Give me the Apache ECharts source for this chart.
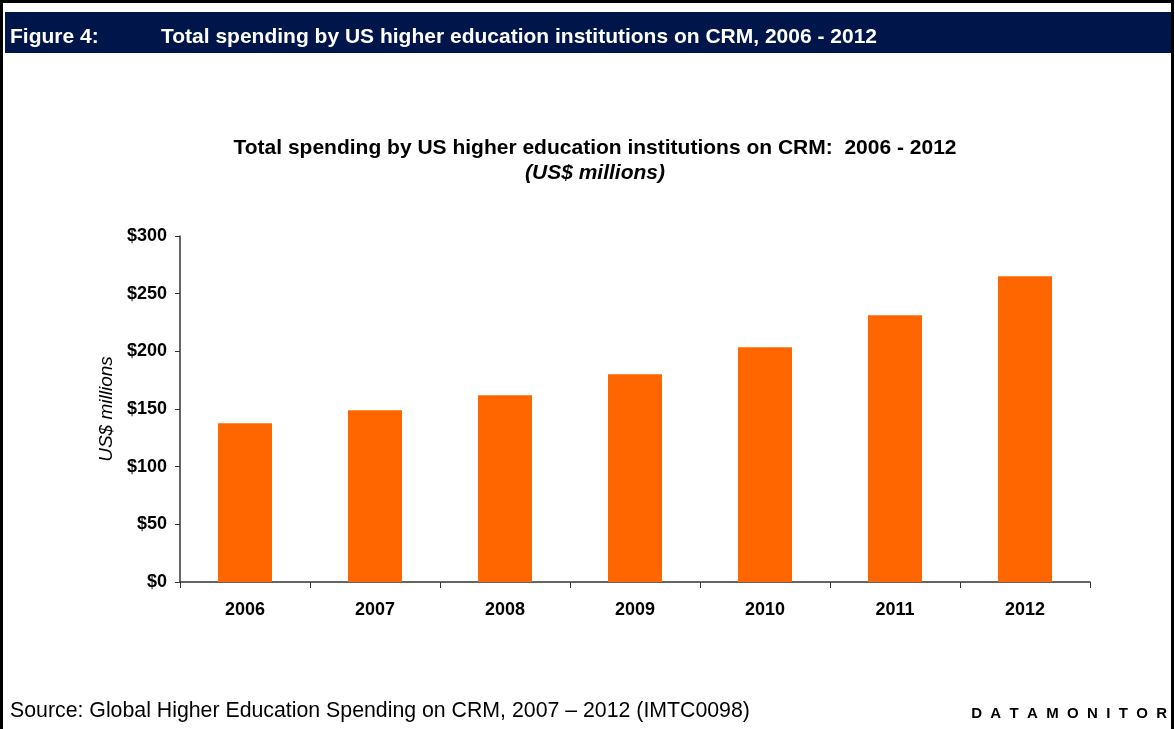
<!DOCTYPE html>
<html>
<head>
<meta charset="utf-8">
<script src="https://cdn.jsdelivr.net/npm/echarts@6/dist/echarts.min.js"></script>
<style>
  html, body { margin: 0; padding: 0; background: #fff; }
  #chart { width: 1175px; height: 729px; }
</style>
</head>
<body>
<div id="chart"></div>
<script>
// data
var years = ['2006', '2007', '2008', '2009', '2010', '2011', '2012'];
var spending = [137.6, 148.9, 161.9, 180.1, 203.5, 231.2, 265.1];

var FONT = 'Liberation Sans, Arial, sans-serif';

var chart = echarts.init(document.getElementById('chart'));
chart.setOption({
    backgroundColor: '#fff',
    animation: false,
    title: {
        text: 'Total spending by US higher education institutions on CRM:  2006 - 2012',
        subtext: '(US$ millions)',
        left: 590,
        textAlign: 'center',
        top: 133,
        itemGap: 4,
        textStyle: { fontFamily: FONT, fontSize: 21, fontWeight: 'bold', color: '#000' },
        subtextStyle: { fontFamily: FONT, fontSize: 21, fontWeight: 'bold', fontStyle: 'italic', color: '#000' }
    },
    grid: { left: 180, right: 85, top: 236, bottom: 147 },
    xAxis: {
        type: 'category',
        data: years,
        axisLine: { lineStyle: { color: '#333', width: 1.5 } },
        axisTick: { show: true, length: 6, lineStyle: { color: '#333' } },
        axisLabel: { margin: 19, fontFamily: FONT, fontSize: 18, fontWeight: 'bold', color: '#000' }
    },
    yAxis: {
        type: 'value',
        min: 0, max: 300, interval: 50,
        name: 'US$ millions',
        nameLocation: 'middle',
        nameGap: 60,
        nameTextStyle: { fontFamily: FONT, fontSize: 19, fontStyle: 'italic', color: '#000' },
        axisLine: { show: true, lineStyle: { color: '#333', width: 1.5 } },
        axisTick: { show: true, length: 5, lineStyle: { color: '#333' } },
        splitLine: { show: false },
        axisLabel: {
            margin: 13,
            fontFamily: FONT, fontSize: 18, fontWeight: 'bold', color: '#000',
            formatter: function (v) { return '$' + v; }
        }
    },
    series: [{
        type: 'bar',
        data: spending,
        barWidth: 54,
        itemStyle: { color: '#FF6600' }
    }],
    graphic: [
        // outer frame
        { type: 'rect', shape: { x: 1.5, y: 1.5, width: 1171, height: 740 }, style: { fill: null, stroke: '#000', lineWidth: 3 }, z: 100 },
        // header bar
        { type: 'rect', shape: { x: 5, y: 12, width: 1167, height: 41 }, style: { fill: '#00164A' }, z: 90 },
        { type: 'text', left: 10, top: 27, style: { text: 'Figure 4:', fill: '#fff', font: 'bold 21px ' + FONT }, z: 95 },
        { type: 'text', left: 161, top: 27, style: { text: 'Total spending by US higher education institutions on CRM, 2006 - 2012', fill: '#fff', font: 'bold 21px ' + FONT }, z: 95 },
        // footer
        { type: 'text', left: 10, top: 701, style: { text: 'Source: Global Higher Education Spending on CRM, 2007 \u2013 2012 (IMTC0098)', fill: '#000', font: '21.3px ' + FONT }, z: 95 },
        { type: 'text', right: 8, top: 706, style: { text: 'D  A  T  A  M  O  N  I  T  O  R', fill: '#000', font: 'bold 15px ' + FONT }, z: 95 }
    ]
});
</script>
</body>
</html>
